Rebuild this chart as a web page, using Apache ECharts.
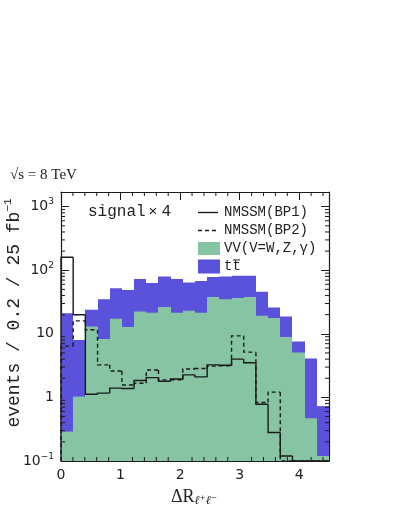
<!DOCTYPE html>
<html><head><meta charset="utf-8">
<script src="https://cdn.jsdelivr.net/npm/echarts@6/dist/echarts.min.js"></script>
<style>html,body{margin:0;padding:0;background:#fff}#c{width:394px;height:510px}</style>
</head><body><div id="c"></div>
<script>
// ---- data ----
const xMin = 0, xMax = 4.5, nBins = 22;
const yMin = 0.1, yMax = 1700;
const xTickValues = [0, 1, 2, 3, 4];
const xTickLabels = ['0', '1', '2', '3', '4'];
const yTickValues = [0.1, 1, 10, 100, 1000];
const yTickLabels = ['{b|10}{s|\u22121}', '{b|1}', '{b|10}', '{b|10}{s|2}', '{b|10}{s|3}'];
// tt̄ (top of blue histogram)
const ttbar = [21, 8, 24, 35, 52, 49, 73, 63, 80, 73, 64, 68, 78, 80, 82, 82, 46, 26, 18.7, 7.6, 4.1, 0.73];
// VV (green histogram)
const vv = [0.29, 1.03, 13, 8.3, 17.2, 12.8, 22.4, 21.5, 26.3, 21.5, 23, 21.5, 37.8, 35, 36.5, 37.8, 19.2, 17.7, 8.9, 5.1, 0.47, 0.12];
// NMSSM BP1 (solid), signal x4
const bp1 = [160, 20, 1.12, 1.17, 1.4, 1.38, 1.84, 2.05, 1.8, 1.95, 2.26, 2.1, 3.25, 3.2, 4.0, 3.5, 0.78, 0.28, 0.12, 0, 0, 0];
// NMSSM BP2 (dashed), signal x4
const bp2 = [6.4, 16, 11.6, 3.25, 2.6, 1.57, 1.67, 2.7, 1.89, 1.9, 2.8, 2.85, 3.1, 3.15, 9.3, 5.15, 0.83, 1.21, 0, 0, 0, 0];

// ---- styling ----
const BLUE = '#5b52dc', GREEN = '#86c4a4', INK = '#1a1a1a';
const MONO = '"Liberation Mono", "DejaVu Sans Mono", monospace';
const SANS = '"DejaVu Sans", sans-serif';
const SERIF = '"Liberation Serif", "DejaVu Serif", serif';

const binW = (xMax - xMin) / nBins;
const clampY = v => Math.min(yMax, Math.max(yMin, v));

function fillSeries(name, vals, color, z) {
  return {
    type: 'custom', name, z, xAxisIndex: 0, yAxisIndex: 0,
    data: vals.map((v, i) => [xMin + i * binW, xMin + (i + 1) * binW, v]),
    encode: { x: [0, 1], y: 2 },
    renderItem: (params, api) => {
      const v = api.value(2);
      if (!(v > yMin)) return null;
      const p0 = api.coord([api.value(0), clampY(v)]);
      const p1 = api.coord([api.value(1), yMin]);
      const xl = Math.round(p0[0]), xr = Math.round(p1[0]);
      return { type: 'rect', shape: { x: xl, y: p0[1], width: xr - xl, height: p1[1] - p0[1] },
        style: { fill: color } };
    }
  };
}
function stepSeries(name, vals, dash, z) {
  return {
    type: 'custom', name, z, xAxisIndex: 0, yAxisIndex: 0,
    data: vals.map((v, i) => [xMin + i * binW, xMin + (i + 1) * binW, v, i > 0 ? vals[i - 1] : yMin]),
    encode: { x: [0, 1], y: 2 },
    renderItem: (params, api) => {
      const x0 = api.value(0), x1 = api.value(1);
      const v = clampY(api.value(2)), vp = clampY(api.value(3));
      const a = api.coord([x0, vp]), b = api.coord([x0, v]), c = api.coord([x1, v]);
      return { type: 'polyline', shape: { points: [a, b, c] },
        style: { stroke: INK, lineWidth: 1.4, fill: null, lineDash: dash } };
    }
  };
}
// minor ticks (drawn through the axis scales)
const xMinor = [];
for (let i = 1; i * 0.2 < xMax - 1e-9; i++) { if (i % 5) xMinor.push(+(i * 0.2).toFixed(2)); }
const yMinor = [];
for (let e = -1; e <= 3; e++) for (let m = 2; m <= 9; m++) { const v = m * Math.pow(10, e); if (v < yMax) yMinor.push(v); }
const tickSeries = {
  type: 'custom', z: 10, silent: true, xAxisIndex: 0, yAxisIndex: 0,
  data: xMinor.map(v => [0, v]).concat(yMinor.map(v => [1, v])),
  encode: { x: [], y: [] },
  renderItem: (params, api) => {
    const kind = api.value(0), v = api.value(1), L = 4;
    if (kind === 0) {
      const b = api.coord([v, yMin]), t = api.coord([v, yMax]);
      return { type: 'group', children: [
        { type: 'line', shape: { x1: b[0], y1: b[1], x2: b[0], y2: b[1] - L }, style: { stroke: INK, lineWidth: 1 } },
        { type: 'line', shape: { x1: t[0], y1: t[1], x2: t[0], y2: t[1] + L }, style: { stroke: INK, lineWidth: 1 } } ] };
    } else {
      const l = api.coord([xMin, v]), r = api.coord([xMax, v]);
      return { type: 'group', children: [
        { type: 'line', shape: { x1: l[0], y1: l[1], x2: l[0] + L, y2: l[1] }, style: { stroke: INK, lineWidth: 1 } },
        { type: 'line', shape: { x1: r[0], y1: r[1], x2: r[0] - L, y2: r[1] }, style: { stroke: INK, lineWidth: 1 } } ] };
    }
  }
};

function xAxisCfg(pos, labels) {
  return {
    type: 'value', min: xMin, max: xMax, interval: 1, position: pos,
    axisLine: { show: true, onZero: false, lineStyle: { color: INK, width: 1.2 } },
    axisTick: { show: true, inside: true, length: 8, lineStyle: { color: INK, width: 1 } },
    axisLabel: { show: labels, margin: 7, color: '#222', fontFamily: SANS, fontSize: 14,
      formatter: v => { const k = xTickValues.findIndex(t => Math.abs(t - v) < 1e-9); return k >= 0 ? xTickLabels[k] : ''; } },
    splitLine: { show: false }
  };
}
function yAxisCfg(pos, labels) {
  return {
    type: 'log', logBase: 10, min: yMin, max: yMax, position: pos,
    axisLine: { show: true, onZero: false, lineStyle: { color: INK, width: 1.2 } },
    axisTick: { show: true, inside: true, length: 8, lineStyle: { color: INK, width: 1 } },
    axisLabel: { show: labels, margin: 7, color: '#222', align: 'right',
      formatter: v => { const k = yTickValues.findIndex(t => Math.abs(Math.log10(t) - Math.log10(v)) < 1e-6); return k >= 0 ? yTickLabels[k] : ''; },
      rich: { b: { fontFamily: SANS, fontSize: 14, color: '#222', lineHeight: 18 },
              s: { fontFamily: SANS, fontSize: 9, color: '#222', verticalAlign: 'top', lineHeight: 10 } } },
    splitLine: { show: false }
  };
}

const chart = echarts.init(document.getElementById('c'), null, { renderer: 'canvas' });
chart.setOption({
  animation: false,
  backgroundColor: '#fff',
  grid: { left: 61, right: 65, top: 192, bottom: 49 },
  xAxis: [xAxisCfg('bottom', true), xAxisCfg('top', false)],
  yAxis: [yAxisCfg('left', true), yAxisCfg('right', false)],
  series: [
    fillSeries('tt', ttbar, BLUE, 1),
    fillSeries('VV', vv, GREEN, 2),
    stepSeries('BP2', bp2, [4, 3], 3),
    stepSeries('BP1', bp1, null, 4),
    tickSeries
  ],
  graphic: [
    { type: 'text', x: 10, y: 175, style: { text: '\u221As = 8 TeV', font: '15px ' + SERIF, fill: '#222', verticalAlign: 'middle' } },
    { type: 'text', x: 14, y: 313, rotation: Math.PI / 2,
      style: { text: '{t|events / 0.2 / 25 fb}{s|\u22121}', align: 'center', verticalAlign: 'middle',
        rich: { t: { font: '18px ' + MONO, fill: '#222', lineHeight: 22 }, s: { font: '11px ' + MONO, fill: '#222', verticalAlign: 'top', lineHeight: 12 } } } },
    { type: 'text', x: 194, y: 497,
      style: { text: '{r|\u0394R}{s|\u2113\u207A\u2113\u207B}', align: 'center', verticalAlign: 'middle',
        rich: { r: { font: '18px ' + SERIF, fill: '#222', lineHeight: 20 }, s: { font: 'italic 12px ' + SERIF, fill: '#222', verticalAlign: 'bottom', lineHeight: 12 } } } },
    { type: 'text', x: 88, y: 212,
      style: { text: '{a|signal}{m|\u00D7}{b|4}', verticalAlign: 'middle',
        rich: { a: { font: '16px ' + MONO, fill: '#222' }, m: { font: '15px ' + MONO, fill: '#222', padding: [0, 0, 0, 3] },
                b: { font: '16px ' + MONO, fill: '#222', padding: [0, 0, 0, 4] } } } },
    { type: 'line', shape: { x1: 198, y1: 212.5, x2: 218, y2: 212.5 }, style: { stroke: INK, lineWidth: 1.4 } },
    { type: 'line', shape: { x1: 198, y1: 230.5, x2: 218, y2: 230.5 }, style: { stroke: INK, lineWidth: 1.4, lineDash: [4, 3] } },
    { type: 'rect', shape: { x: 198, y: 242, width: 22, height: 13 }, style: { fill: GREEN } },
    { type: 'rect', shape: { x: 198, y: 259.5, width: 22, height: 14 }, style: { fill: BLUE } },
    { type: 'text', x: 224, y: 212.5, style: { text: 'NMSSM(BP1)', font: '14px ' + MONO, fill: '#222', verticalAlign: 'middle' } },
    { type: 'text', x: 224, y: 230.5, style: { text: 'NMSSM(BP2)', font: '14px ' + MONO, fill: '#222', verticalAlign: 'middle' } },
    { type: 'text', x: 224, y: 248.5, style: { text: 'VV(V=W,Z,\u03B3)', font: '14px ' + MONO, fill: '#222', verticalAlign: 'middle' } },
    { type: 'text', x: 224, y: 266.5, style: { text: 'tt', verticalAlign: 'middle', font: '14px ' + MONO, fill: '#222' } },
    { type: 'line', shape: { x1: 233, y1: 260, x2: 240, y2: 260 }, style: { stroke: '#222', lineWidth: 1 } }
  ]
});
</script></body></html>
